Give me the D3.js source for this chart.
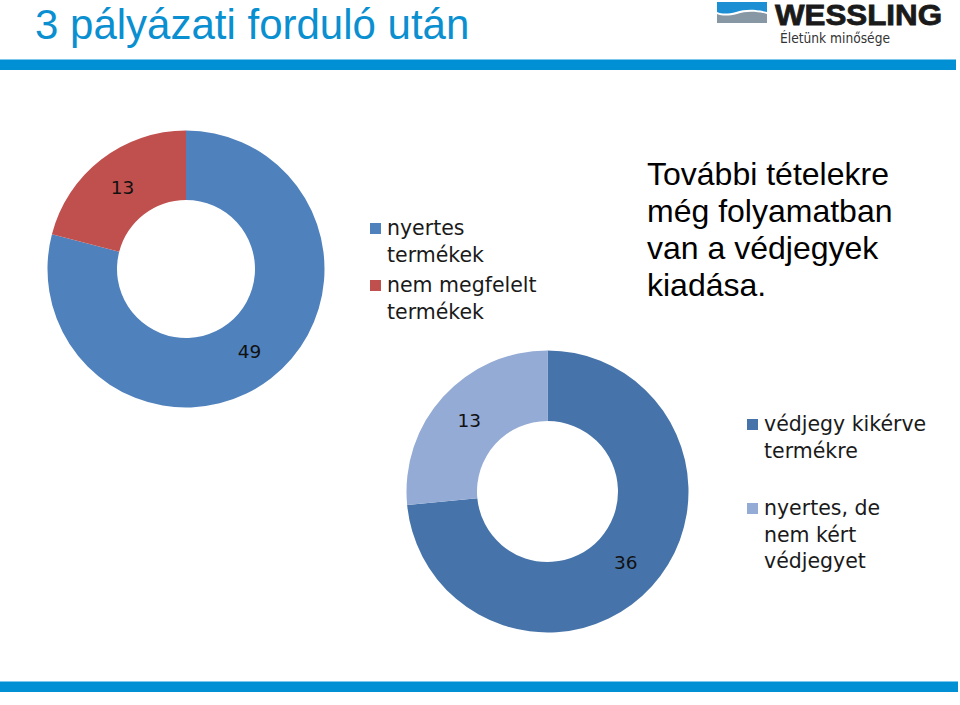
<!DOCTYPE html>
<html>
<head>
<meta charset="utf-8">
<script src="https://cdn.jsdelivr.net/npm/d3@7"></script>
<style>
  html, body { margin: 0; padding: 0; background: #fff; }
  svg { display: block; }
</style>
</head>
<body>
<script>
// ---- Data ----
const titleText = "3 pályázati forduló után";
const noteLines = ["További tételekre", "még folyamatban", "van a védjegyek", "kiadása."];

const chart1Categories = ["nyertes termékek", "nem megfelelt termékek"];
const chart1LegendLines = [["nyertes", "termékek"], ["nem megfelelt", "termékek"]];
const chart1Values = [49, 13];
const chart1Colors = ["#4F81BD", "#C0504D"];

const chart2Categories = ["védjegy kikérve termékre", "nyertes, de nem kért védjegyet"];
const chart2LegendLines = [["védjegy kikérve", "termékre"], ["nyertes, de", "nem kért", "védjegyet"]];
const chart2Values = [36, 13];
const chart2Colors = ["#4674AA", "#94ABD5"];

// ---- Layout ----
const W = 960, H = 705;
const svg = d3.select("body").append("svg").attr("width", W).attr("height", H);

// Title
svg.append("text").attr("x", 35).attr("y", 39)
  .attr("font-family", "Liberation Sans, Arial, sans-serif")
  .attr("font-size", 42).attr("fill", "#0A8FD0").text(titleText);

// Top & bottom bars
svg.append("rect").attr("x", 0).attr("y", 59).attr("width", 956).attr("height", 11).attr("fill", "#0090D3");
svg.append("rect").attr("x", 0).attr("y", 59).attr("width", 956).attr("height", 1).attr("fill", "#7CC8EC");
svg.append("rect").attr("x", 0).attr("y", 681).attr("width", 958).attr("height", 11).attr("fill", "#0090D3");
svg.append("rect").attr("x", 0).attr("y", 681).attr("width", 958).attr("height", 1).attr("fill", "#7CC8EC");

// Logo
const logo = svg.append("g");
logo.append("path").attr("d", "M717,2 H767 V12 C755,9 745,9 736,12 C728,14 722,14 717,12 Z").attr("fill", "#1C8ED4");
logo.append("path").attr("d", "M717,14 C722,16 729,16 737,14 C746,11 756,11 767,14 V23 H717 Z").attr("fill", "#8797A4");
logo.append("text").attr("x", 775).attr("y", 24.5)
  .attr("font-family", "Liberation Sans, Arial, sans-serif").attr("font-weight", "bold")
  .attr("font-size", 29).attr("textLength", 167).attr("lengthAdjust", "spacingAndGlyphs")
  .attr("stroke", "#1a1a1a").attr("stroke-width", 0.8)
  .attr("fill", "#1a1a1a").text("WESSLING");
logo.append("text").attr("x", 780).attr("y", 43)
  .attr("font-family", "DejaVu Sans, Verdana, sans-serif")
  .attr("font-size", 13.5).attr("textLength", 110).attr("lengthAdjust", "spacingAndGlyphs")
  .attr("fill", "#333").text("Életünk minősége");

// Note text
const note = svg.append("text")
  .attr("font-family", "Liberation Sans, Arial, sans-serif")
  .attr("font-size", 32).attr("fill", "#000");
noteLines.forEach((l, i) => {
  note.append("tspan").attr("x", 647).attr("y", 185 + i * 37).text(l);
});

// Donut drawing
function donut(cx, cy, rOuter, rInner, values, colors) {
  const pie = d3.pie().sort(null).value(d => d);
  const arc = d3.arc().innerRadius(rInner).outerRadius(rOuter);
  const g = svg.append("g").attr("transform", `translate(${cx},${cy})`);
  const arcs = pie(values);
  g.selectAll("path").data(arcs).join("path")
    .attr("d", arc).attr("fill", (d, i) => colors[i]);
  g.selectAll("text").data(arcs).join("text")
    .attr("transform", d => `translate(${arc.centroid(d)})`)
    .attr("text-anchor", "middle").attr("dy", "0.36em")
    .attr("font-family", "DejaVu Sans, Verdana, sans-serif")
    .attr("font-size", 18.5).attr("fill", "#111")
    .text(d => d.data);
}

function legend(x, items, colors, startYs) {
  items.forEach((lines, i) => {
    const y0 = startYs[i];
    svg.append("rect").attr("x", x).attr("y", y0 - 12).attr("width", 11).attr("height", 11).attr("fill", colors[i]);
    const t = svg.append("text").attr("font-family", "DejaVu Sans, Verdana, sans-serif")
      .attr("font-size", 20.5).attr("fill", "#1a1a1a");
    lines.forEach((l, j) => t.append("tspan").attr("x", x + 17).attr("y", y0 + j * 26.5).text(l));
  });
}

donut(186, 269, 138.5, 69, chart1Values, chart1Colors);
legend(370, chart1LegendLines, chart1Colors, [235, 292]);

donut(547.5, 491.5, 141, 70.5, chart2Values, chart2Colors);
legend(747, chart2LegendLines, chart2Colors, [431, 515]);
</script>
</body>
</html>
